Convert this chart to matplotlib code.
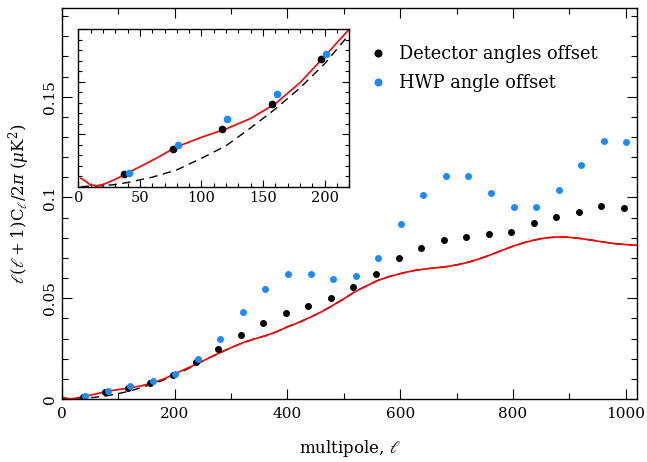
import numpy as np
from matplotlib import pyplot as plt
from matplotlib.ticker import MultipleLocator, NullFormatter

# theory curve (red) and reference curve (dashed)
ell_th = [2, 5, 10, 15, 20, 30, 40, 60, 80, 100, 120, 140, 160, 180, 200, 220,
          240, 260, 280, 300, 320, 340, 360, 380, 400, 420, 440, 460, 480, 500,
          520, 540, 560, 580, 600, 620, 640, 660, 680, 700, 720, 740, 760, 780,
          800, 820, 840, 860, 880, 900, 920, 940, 960, 980, 1000, 1020]
cl_red = [0.0008, 0.0006, 0.00015, 0.0001, 0.0002, 0.0007, 0.0013, 0.0025,
          0.0038, 0.0047, 0.0055, 0.0065, 0.0079, 0.0099, 0.0124, 0.0150,
          0.0175, 0.0203, 0.0229, 0.0255, 0.0278, 0.0297, 0.0313, 0.0333,
          0.0358, 0.0380, 0.0405, 0.0432, 0.0464, 0.0497, 0.0533, 0.0561,
          0.0588, 0.0607, 0.0622, 0.0635, 0.0644, 0.0650, 0.0656, 0.0665,
          0.0678, 0.0695, 0.0715, 0.0737, 0.0758, 0.0776, 0.0790, 0.0800,
          0.0804, 0.0802, 0.0796, 0.0788, 0.0779, 0.0771, 0.0766, 0.0762]
cl_dash = [0.0, 0.00002, 0.00005, 0.00008, 0.0001, 0.0002, 0.0004, 0.0009,
           0.0016, 0.0027, 0.0039, 0.0056, 0.0074, 0.0094, 0.0117, 0.0145,
           0.0173] + cl_red[17:]

# binned spectra
ell_det = [40 * k - 3 for k in range(1, 26)]
cl_det = [0.0012, 0.0036, 0.0055, 0.0079, 0.0121, 0.0185, 0.0248, 0.0317,
          0.0376, 0.0427, 0.0460, 0.0500, 0.0558, 0.0622, 0.0701, 0.0749,
          0.0789, 0.0805, 0.0817, 0.0830, 0.0873, 0.0901, 0.0927, 0.0960,
          0.0946]
ell_hwp = [40 * k + 1 for k in range(1, 26)]
cl_hwp = [0.0013, 0.0040, 0.0064, 0.0088, 0.0126, 0.0200, 0.0297, 0.0432,
          0.0548, 0.0622, 0.0619, 0.0597, 0.0609, 0.0701, 0.0868, 0.1013,
          0.1105, 0.1104, 0.1020, 0.0952, 0.0954, 0.1035, 0.1162, 0.1279,
          0.1274]

plt.rcParams['font.family'] = 'DejaVu Serif'
plt.rcParams['mathtext.fontset'] = 'dejavuserif'

BLUE = '#1a8cff'

def style_axes(ax, major_len, minor_len):
    '''
    Inward ticks on all four sides
    '''
    ax.tick_params(which='both', direction='in', top=True, right=True,
                   width=0.8)
    ax.tick_params(which='major', length=major_len)
    ax.tick_params(which='minor', length=minor_len)
    for s in ax.spines.values():
        s.set_linewidth(1.0)

fig = plt.figure(figsize=(6.47, 4.62), dpi=100)
ax = fig.add_axes([0.0958, 0.1364, 0.8887, 0.8463])

ax.plot(ell_th, cl_dash, color='black', ls=(0, (6, 4)), lw=1.0)
ax.plot(ell_th, cl_red, color='red', lw=1.2)
ax.plot(ell_det, cl_det, 'o', color='black', ms=4, label='Detector angles offset')
ax.plot(ell_hwp, cl_hwp, 'o', color=BLUE, ms=4, label='HWP angle offset')

ax.set_xlim(0, 1020)
ax.set_ylim(0, 0.194)
ax.xaxis.set_major_locator(MultipleLocator(200))
ax.xaxis.set_minor_locator(MultipleLocator(100))
ax.yaxis.set_major_locator(MultipleLocator(0.05))
ax.yaxis.set_minor_locator(MultipleLocator(0.01))
ax.set_yticks([0, 0.05, 0.1, 0.15])
ax.set_yticklabels(['0', '0.05', '0.1', '0.15'], rotation=90, va='center')
style_axes(ax, 7, 4)
ax.tick_params(labelsize=11)
ax.tick_params(axis='x', pad=6)

ax.set_xlabel(r'multipole, $\ell$', fontsize=12, labelpad=12)
ax.set_ylabel(r'$\ell(\ell+1)\mathrm{C}_\ell/2\pi\ (\mu\mathrm{K}^2)$', fontsize=12,
              labelpad=8)

ax.legend(loc='upper left', bbox_to_anchor=(0.51, 0.945), frameon=False,
          fontsize=12.8, handletextpad=0.75, labelspacing=0.6, handlelength=0.8,
          markerscale=1.2)

# inset zoom on the low multipoles
axin = fig.add_axes([0.121, 0.5959, 0.4189, 0.3413])
axin.plot(ell_th, cl_dash, color='black', ls=(0, (6, 4)), lw=1.0)
axin.plot(ell_th, cl_red, color='red', lw=1.2)
axin.plot(ell_det, cl_det, 'o', color='black', ms=4.5)
axin.plot(ell_hwp, cl_hwp, 'o', color=BLUE, ms=4.5)
axin.set_xlim(0, 220)
axin.set_ylim(0, 0.015)
axin.xaxis.set_major_locator(MultipleLocator(50))
axin.xaxis.set_minor_locator(MultipleLocator(10))
axin.yaxis.set_major_locator(MultipleLocator(0.005))
axin.yaxis.set_minor_locator(MultipleLocator(0.001))
axin.yaxis.set_major_formatter(NullFormatter())
style_axes(axin, 5, 3)
axin.tick_params(labelsize=10.5, pad=3)

fig.savefig('out.png', dpi=100)
